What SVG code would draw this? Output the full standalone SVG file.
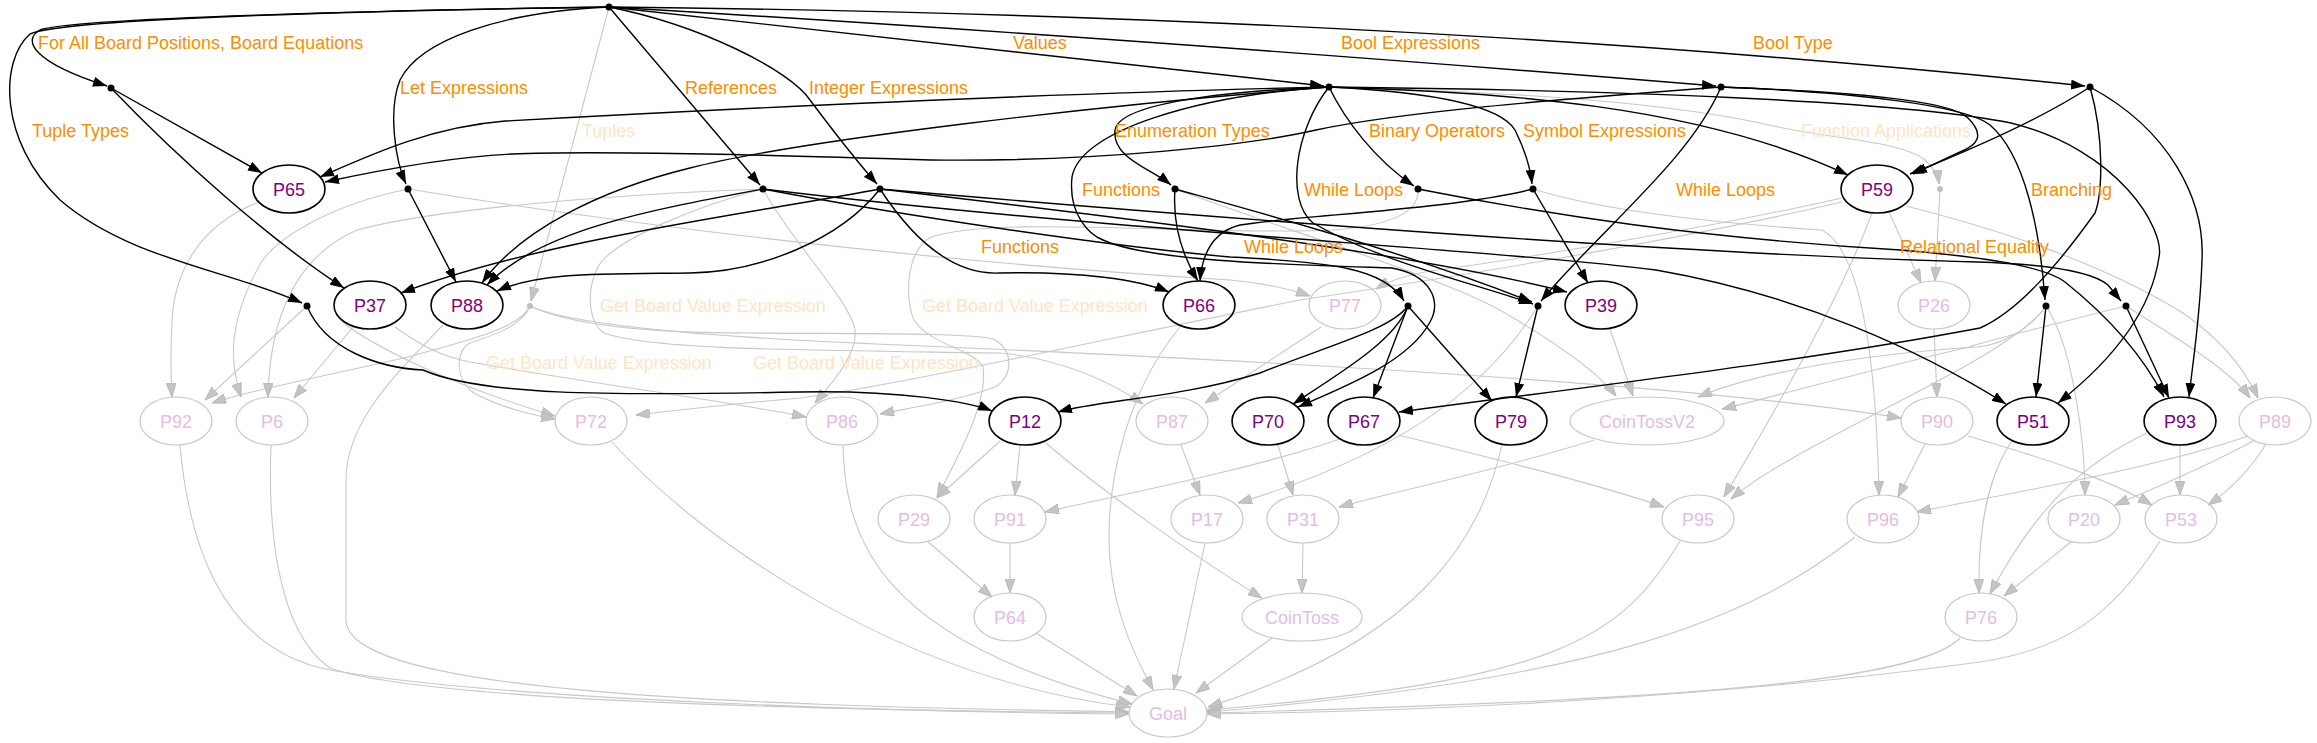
<svg xmlns="http://www.w3.org/2000/svg" width="2317" height="743" viewBox="0 0 2317 743">
<defs>
<marker id="ab" viewBox="0 0 14 10" refX="14" refY="5" markerWidth="14" markerHeight="10" markerUnits="userSpaceOnUse" orient="auto"><path d="M0,0 L14,5 L0,10 z" fill="#000"/></marker>
<marker id="ag" viewBox="0 0 14 10" refX="14" refY="5" markerWidth="14" markerHeight="10" markerUnits="userSpaceOnUse" orient="auto"><path d="M0,0 L14,5 L0,10 z" fill="#c4c4c4" stroke="#b4b4b4" stroke-width="0.8"/></marker>
<style>
.e{fill:none;stroke:#000;stroke-width:1.4;marker-end:url(#ab)}
.g{fill:none;stroke:#c8c8c8;stroke-width:1.1;marker-end:url(#ag)}
.na ellipse{fill:none;stroke:#000;stroke-width:1.6}
.ni ellipse{fill:none;stroke:#c8c8c8;stroke-width:1.2}
text{font-family:"Liberation Sans",Arial,Helvetica,sans-serif;font-size:18px}
.na text{fill:#800080;text-anchor:middle}
.ni text{fill:#e4bce4;text-anchor:middle}
.lo{fill:#ff8c00}
.ll{fill:#ffe4c4}
.dk{fill:#000}
.dg{fill:#c0c0c0}
</style>
</defs>
<rect width="2317" height="743" fill="#fff"/>
<g id="connectors">
<!-- grey edges -->
<path class="g" d="M609,7 L531,301"/>
<path class="g" d="M1329,87 C1500,92 1650,100 1760,123 C1830,140 1900,140 1925,160 C1935,170 1938,176 1939,184"/>
<path class="g" d="M1940,189 L1935,281"/>
<path class="g" d="M1889,212 L1921,283"/>
<path class="g" d="M1872,213 C1840,300 1770,420 1724,497"/>
<path class="g" d="M1906,206 C2000,230 2100,262 2183,313 C2222,340 2245,370 2258,398"/>
<path class="g" d="M1842,198 C1700,230 1500,262 1437,270 C1410,274 1390,280 1376,289"/>
<path class="g" d="M1842,202 C1700,235 1500,270 1300,300 C1100,340 900,385 800,398 C720,405 680,410 636,415"/>
<path class="g" d="M259,202 C200,225 175,270 172,320 C170,360 171,380 172,397"/>
<path class="g" d="M307,306 L205,400"/>
<path class="g" d="M530,306 C520,330 450,345 408,357 C330,375 250,390 212,403"/>
<path class="g" d="M408,189 C330,205 270,240 257,270 C225,330 232,370 241,397"/>
<path class="g" d="M763,189 C600,195 430,210 357,230 C300,255 270,310 268,397"/>
<path class="g" d="M353,327 L294,398"/>
<path class="g" d="M340,320 C370,345 450,385 555,416"/>
<path class="g" d="M530,306 C522,325 500,333 470,343 C455,350 455,380 474,393 C495,405 530,415 555,419"/>
<path class="g" d="M395,327 C420,345 440,356 470,362 C600,385 720,400 806,417"/>
<path class="g" d="M763,189 C790,240 850,300 855,330 C858,355 830,385 815,403"/>
<path class="g" d="M530,306 C580,330 680,333 750,333 C850,334 980,332 995,340 C1015,352 1012,378 995,387 C960,400 920,406 880,414"/>
<path class="g" d="M763,189 C700,205 612,240 598,267 C586,290 588,322 604,333 C650,350 800,350 1000,353 C1070,360 1115,385 1143,404"/>
<path class="g" d="M1321,327 L1205,403"/>
<path class="g" d="M408,189 C600,220 900,260 1230,280 C1262,283 1290,289 1310,296"/>
<path class="g" d="M1610,329 L1633,396"/>
<path class="g" d="M1175,189 C1300,235 1450,280 1505,313 C1560,345 1600,375 1616,396"/>
<path class="g" d="M2046,306 C2030,330 2000,345 1977,347 C1850,355 1750,375 1698,397"/>
<path class="g" d="M2126,306 C2050,325 1990,340 1969,347 C1850,375 1780,395 1722,409"/>
<path class="g" d="M530,306 C570,325 700,337 900,345 C1300,362 1700,385 1901,418"/>
<path class="g" d="M1934,329 L1937,397"/>
<path class="g" d="M2046,306 C2010,360 1800,440 1731,499"/>
<path class="g" d="M1398,435 C1500,460 1600,485 1664,507"/>
<path class="g" d="M1340,439 C1250,470 1120,495 1045,512"/>
<path class="g" d="M1925,444 L1898,497"/>
<path class="g" d="M1968,436 C2050,460 2110,480 2152,505"/>
<path class="g" d="M2248,436 C2150,470 2000,495 1917,512"/>
<path class="g" d="M2255,440 C2200,470 2150,490 2115,505"/>
<path class="g" d="M2266,444 C2250,470 2230,490 2208,505"/>
<path class="g" d="M2180,445 L2180,495"/>
<path class="g" d="M2147,433 C2090,460 2040,500 1990,594"/>
<path class="g" d="M2012,441 C1985,480 1978,540 1979,593"/>
<path class="g" d="M2072,541 L2004,596"/>
<path class="g" d="M2046,306 C2075,350 2085,450 2085,495"/>
<path class="g" d="M2126,306 C2180,340 2230,370 2250,398"/>
<path class="g" d="M1533,189 C1600,210 1700,222 1822,230 C1860,250 1876,350 1879,495"/>
<path class="g" d="M1538,306 C1480,400 1380,460 1238,503"/>
<path class="g" d="M1181,445 L1200,495"/>
<path class="g" d="M1278,445 L1293,495"/>
<path class="g" d="M1594,440 C1500,470 1400,490 1339,507"/>
<path class="g" d="M1303,543 L1302,593"/>
<path class="g" d="M1000,441 L937,498"/>
<path class="g" d="M1020,445 L1015,495"/>
<path class="g" d="M1046,443 C1100,490 1200,560 1262,598"/>
<path class="g" d="M1418,189 C1420,212 1390,226 1333,230 C1200,236 1000,215 931,237 C905,252 905,300 914,320 C930,345 975,350 983,367 C988,400 962,450 937,497"/>
<path class="g" d="M927,541 L992,597"/>
<path class="g" d="M1010,543 L1010,593"/>
<path class="g" d="M1036,633 L1137,696"/>
<path class="g" d="M1205,543 L1174,689"/>
<path class="g" d="M1272,638 L1196,693"/>
<path class="g" d="M1180,327 C1120,400 1105,500 1110,560 C1115,620 1140,665 1153,690"/>
<path class="g" d="M843,445 C845,540 880,640 1132,704"/>
<path class="g" d="M612,442 C700,540 900,680 1130,707"/>
<path class="g" d="M443,325 C400,370 346,420 346,480 L346,620 C346,690 700,705 1129,712"/>
<path class="g" d="M271,445 C268,520 275,630 330,668 C420,700 800,710 1129,713"/>
<path class="g" d="M180,445 C190,560 230,650 330,670 C500,700 900,712 1129,714"/>
<path class="g" d="M1502,445 C1480,540 1420,640 1208,707"/>
<path class="g" d="M1680,541 C1620,640 1560,680 1207,710"/>
<path class="g" d="M1855,537 C1750,620 1600,680 1207,712"/>
<path class="g" d="M1960,638 C1920,680 1700,700 1207,713"/>
<path class="g" d="M2160,541 C2110,620 2060,650 1980,662 C1700,700 1400,712 1207,714"/>
<!-- black edges -->
<path class="e" d="M609,7 C400,10 70,18 40,30 C22,40 32,62 107,86"/>
<path class="e" d="M609,7 C300,12 60,20 30,34 C0,60 -2,140 60,200 C130,260 230,270 302,303"/>
<path class="e" d="M609,7 C500,12 420,40 400,80 C388,110 395,160 406,184"/>
<path class="e" d="M609,7 L760,185"/>
<path class="e" d="M609,7 C700,25 790,70 810,100 C840,140 860,165 877,184"/>
<path class="e" d="M609,7 L1324,86"/>
<path class="e" d="M609,7 C1000,30 1400,60 1716,86"/>
<path class="e" d="M609,7 C1100,12 1600,35 2085,86"/>
<path class="e" d="M111,88 L262,173"/>
<path class="e" d="M111,88 C180,160 270,240 344,288"/>
<path class="e" d="M1329,87 C1100,92 800,105 505,121 C430,127 370,155 320,177"/>
<path class="e" d="M1721,87 C1550,100 1400,112 1316,130 C1250,145 1100,162 931,160 C800,156 600,150 512,154 C450,157 380,170 325,182"/>
<path class="e" d="M408,189 L456,282"/>
<path class="e" d="M880,189 C760,212 540,240 401,293"/>
<path class="e" d="M763,189 C650,210 540,230 487,285"/>
<path class="e" d="M880,189 C840,240 760,272 690,273 C600,274 540,272 497,291"/>
<path class="e" d="M1329,87 C1100,105 800,140 690,168 C600,190 520,230 482,283"/>
<path class="e" d="M1175,189 C1172,230 1185,260 1198,281"/>
<path class="e" d="M880,189 C920,250 960,275 1000,273 C1080,271 1140,280 1169,292"/>
<path class="e" d="M1329,87 C1250,90 1120,100 1115,130 C1112,158 1150,168 1171,185"/>
<path class="e" d="M1329,87 C1345,120 1375,160 1414,186"/>
<path class="e" d="M1329,87 C1430,92 1500,105 1515,130 C1525,150 1530,165 1532,184"/>
<path class="e" d="M1329,87 C1295,130 1285,200 1313,223 C1380,262 1480,285 1533,304"/>
<path class="e" d="M1721,87 C1690,160 1600,230 1541,301"/>
<path class="e" d="M1329,87 C1200,95 1080,130 1072,177 C1068,215 1090,235 1103,240 C1150,262 1300,265 1392,268 C1430,275 1442,300 1430,322 C1410,360 1350,385 1298,407"/>
<path class="e" d="M1175,189 C1250,210 1400,250 1532,302"/>
<path class="e" d="M763,189 C900,215 1100,245 1230,257 C1330,262 1385,268 1404,301"/>
<path class="e" d="M1408,306 C1390,330 1330,345 1260,373 C1180,398 1100,400 1058,412"/>
<path class="e" d="M1408,306 C1395,340 1345,370 1293,404"/>
<path class="e" d="M1408,306 L1373,398"/>
<path class="e" d="M1408,306 L1492,401"/>
<path class="e" d="M1538,306 L1516,397"/>
<path class="e" d="M1533,189 L1588,283"/>
<path class="e" d="M1533,189 C1450,210 1300,215 1240,225 C1212,232 1202,255 1200,281"/>
<path class="e" d="M880,189 C1100,215 1400,250 1567,292"/>
<path class="e" d="M763,189 C1100,230 1500,250 1656,270 C1800,295 1920,350 2006,404"/>
<path class="e" d="M880,189 C1300,225 1700,255 1977,262 C2040,264 2090,270 2108,285 L2121,301"/>
<path class="e" d="M1418,189 C1550,215 1700,238 1900,250 C2000,258 2050,270 2065,282 C2100,310 2140,350 2164,397"/>
<path class="e" d="M1721,87 C1850,92 1965,105 1990,125 C2025,155 2040,230 2045,300"/>
<path class="e" d="M2046,306 L2036,397"/>
<path class="e" d="M2126,306 L2169,398"/>
<path class="e" d="M2090,87 C2170,130 2205,200 2202,260 C2200,320 2193,360 2189,397"/>
<path class="e" d="M2090,87 C2040,120 1970,150 1910,174"/>
<path class="e" d="M1721,87 C1850,92 1950,100 1968,118 C1985,135 1978,145 1960,152 L1913,174"/>
<path class="e" d="M1329,87 C1500,92 1700,105 1848,175"/>
<path class="e" d="M1329,87 C1600,90 1900,100 2011,123 C2120,150 2165,230 2159,257 C2150,320 2100,370 2058,403"/>
<path class="e" d="M2090,87 C2105,140 2102,195 2095,213 C2060,262 2020,310 1980,328 C1800,362 1600,385 1399,412"/>
<path class="e" d="M307,306 C325,350 380,368 423,370 C480,395 600,396 800,392 C900,390 970,402 992,411"/>
</g>
<g id="labels">
<text class="lo" x="38" y="49">For All Board Positions, Board Equations</text>
<text class="lo" x="1013" y="49">Values</text>
<text class="lo" x="1341" y="49">Bool Expressions</text>
<text class="lo" x="1753" y="49">Bool Type</text>
<text class="lo" x="400" y="94">Let Expressions</text>
<text class="lo" x="685" y="94">References</text>
<text class="lo" x="809" y="94">Integer Expressions</text>
<text class="lo" x="32" y="137">Tuple Types</text>
<text class="ll" x="582" y="137">Tuples</text>
<text class="lo" x="1115" y="137">Enumeration Types</text>
<text class="lo" x="1369" y="137">Binary Operators</text>
<text class="lo" x="1523" y="137">Symbol Expressions</text>
<text class="ll" x="1801" y="137">Function Applications</text>
<text class="lo" x="1082" y="196">Functions</text>
<text class="lo" x="1304" y="196">While Loops</text>
<text class="lo" x="1676" y="196">While Loops</text>
<text class="lo" x="2031" y="196">Branching</text>
<text class="lo" x="981" y="253">Functions</text>
<text class="lo" x="1244" y="253">While Loops</text>
<text class="lo" x="1900" y="253">Relational Equality</text>
<text class="ll" x="600" y="312">Get Board Value Expression</text>
<text class="ll" x="922" y="312">Get Board Value Expression</text>
<text class="ll" x="486" y="369">Get Board Value Expression</text>
<text class="ll" x="753" y="369">Get Board Value Expression</text>
</g>
<g id="dots">
<circle id="root" class="dk" cx="609" cy="7" r="3.5"/>
<circle id="d-forall" class="dk" cx="111" cy="88" r="3.5"/>
<circle id="d-values" class="dk" cx="1329" cy="87" r="3.5"/>
<circle id="d-boolexpr" class="dk" cx="1721" cy="87" r="3.5"/>
<circle id="d-booltype" class="dk" cx="2090" cy="87" r="3.5"/>
<circle id="d-let" class="dk" cx="408" cy="189" r="3.5"/>
<circle id="d-ref" class="dk" cx="763" cy="189" r="3.5"/>
<circle id="d-int" class="dk" cx="880" cy="189" r="3.5"/>
<circle id="d-enum" class="dk" cx="1175" cy="189" r="3.5"/>
<circle id="d-binop" class="dk" cx="1418" cy="189" r="3.5"/>
<circle id="d-sym" class="dk" cx="1533" cy="189" r="3.5"/>
<circle id="d-funapp" class="dg" cx="1940" cy="189" r="3"/>
<circle id="d-tupletypes" class="dk" cx="307" cy="306" r="3.5"/>
<circle id="d-tuples" class="dg" cx="530" cy="306" r="3"/>
<circle id="d-functions" class="dk" cx="1408" cy="306" r="3.5"/>
<circle id="d-while" class="dk" cx="1538" cy="306" r="3.5"/>
<circle id="d-branch" class="dk" cx="2046" cy="306" r="3.5"/>
<circle id="d-releq" class="dk" cx="2126" cy="306" r="3.5"/>
</g>
<g id="n-P65" class="na"><ellipse cx="289" cy="189" rx="36" ry="24"/><text x="289" y="195.5">P65</text></g>
<g id="n-P59" class="na"><ellipse cx="1877" cy="189" rx="36" ry="24"/><text x="1877" y="195.5">P59</text></g>
<g id="n-P37" class="na"><ellipse cx="370" cy="305" rx="36" ry="24"/><text x="370" y="311.5">P37</text></g>
<g id="n-P88" class="na"><ellipse cx="467" cy="305" rx="36" ry="24"/><text x="467" y="311.5">P88</text></g>
<g id="n-P66" class="na"><ellipse cx="1199" cy="305" rx="36" ry="24"/><text x="1199" y="311.5">P66</text></g>
<g id="n-P77" class="ni"><ellipse cx="1345" cy="305" rx="36" ry="24"/><text x="1345" y="311.5">P77</text></g>
<g id="n-P39" class="na"><ellipse cx="1601" cy="305" rx="36" ry="24"/><text x="1601" y="311.5">P39</text></g>
<g id="n-P26" class="ni"><ellipse cx="1934" cy="305" rx="36" ry="24"/><text x="1934" y="311.5">P26</text></g>
<g id="n-P92" class="ni"><ellipse cx="176" cy="421" rx="36" ry="24"/><text x="176" y="427.5">P92</text></g>
<g id="n-P6" class="ni"><ellipse cx="272" cy="421" rx="36" ry="24"/><text x="272" y="427.5">P6</text></g>
<g id="n-P72" class="ni"><ellipse cx="591" cy="421" rx="36" ry="24"/><text x="591" y="427.5">P72</text></g>
<g id="n-P86" class="ni"><ellipse cx="842" cy="421" rx="36" ry="24"/><text x="842" y="427.5">P86</text></g>
<g id="n-P12" class="na"><ellipse cx="1025" cy="421" rx="36" ry="24"/><text x="1025" y="427.5">P12</text></g>
<g id="n-P87" class="ni"><ellipse cx="1172" cy="421" rx="36" ry="24"/><text x="1172" y="427.5">P87</text></g>
<g id="n-P70" class="na"><ellipse cx="1268" cy="421" rx="36" ry="24"/><text x="1268" y="427.5">P70</text></g>
<g id="n-P67" class="na"><ellipse cx="1364" cy="421" rx="36" ry="24"/><text x="1364" y="427.5">P67</text></g>
<g id="n-P79" class="na"><ellipse cx="1511" cy="421" rx="36" ry="24"/><text x="1511" y="427.5">P79</text></g>
<g id="n-CoinTossV2" class="ni"><ellipse cx="1647" cy="421" rx="77" ry="24"/><text x="1647" y="427.5">CoinTossV2</text></g>
<g id="n-P90" class="ni"><ellipse cx="1937" cy="421" rx="36" ry="24"/><text x="1937" y="427.5">P90</text></g>
<g id="n-P51" class="na"><ellipse cx="2033" cy="421" rx="36" ry="24"/><text x="2033" y="427.5">P51</text></g>
<g id="n-P93" class="na"><ellipse cx="2180" cy="421" rx="36" ry="24"/><text x="2180" y="427.5">P93</text></g>
<g id="n-P89" class="ni"><ellipse cx="2275" cy="421" rx="36" ry="24"/><text x="2275" y="427.5">P89</text></g>
<g id="n-P29" class="ni"><ellipse cx="914" cy="519" rx="36" ry="24"/><text x="914" y="525.5">P29</text></g>
<g id="n-P91" class="ni"><ellipse cx="1010" cy="519" rx="36" ry="24"/><text x="1010" y="525.5">P91</text></g>
<g id="n-P17" class="ni"><ellipse cx="1207" cy="519" rx="36" ry="24"/><text x="1207" y="525.5">P17</text></g>
<g id="n-P31" class="ni"><ellipse cx="1303" cy="519" rx="36" ry="24"/><text x="1303" y="525.5">P31</text></g>
<g id="n-P95" class="ni"><ellipse cx="1698" cy="519" rx="36" ry="24"/><text x="1698" y="525.5">P95</text></g>
<g id="n-P96" class="ni"><ellipse cx="1883" cy="519" rx="36" ry="24"/><text x="1883" y="525.5">P96</text></g>
<g id="n-P20" class="ni"><ellipse cx="2084" cy="519" rx="36" ry="24"/><text x="2084" y="525.5">P20</text></g>
<g id="n-P53" class="ni"><ellipse cx="2181" cy="519" rx="36" ry="24"/><text x="2181" y="525.5">P53</text></g>
<g id="n-P64" class="ni"><ellipse cx="1010" cy="617" rx="36" ry="24"/><text x="1010" y="623.5">P64</text></g>
<g id="n-CoinToss" class="ni"><ellipse cx="1302" cy="617" rx="60" ry="24"/><text x="1302" y="623.5">CoinToss</text></g>
<g id="n-P76" class="ni"><ellipse cx="1981" cy="617" rx="36" ry="24"/><text x="1981" y="623.5">P76</text></g>
<g id="n-Goal" class="ni"><ellipse cx="1168" cy="713" rx="39" ry="24"/><text x="1168" y="719.5">Goal</text></g>
</svg>
